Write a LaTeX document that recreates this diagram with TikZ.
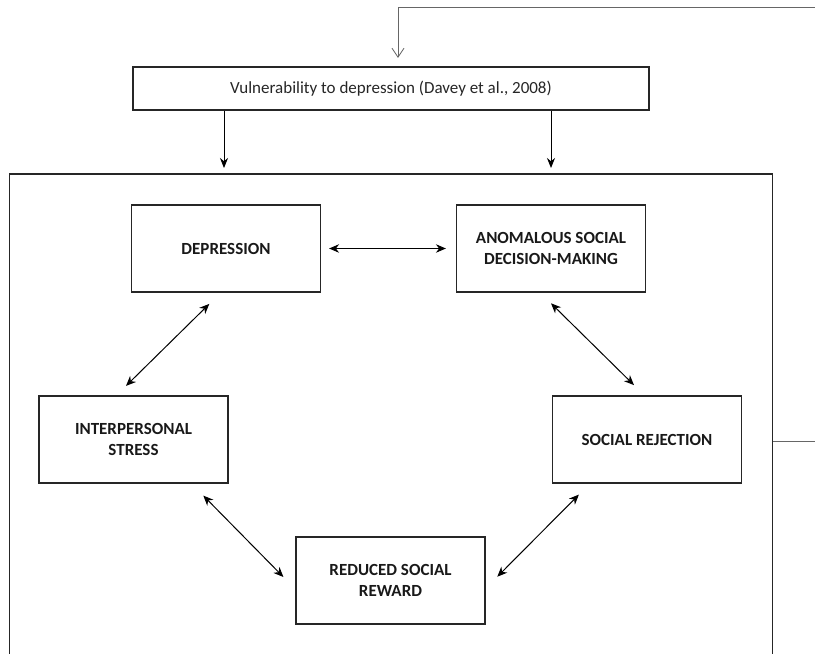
\documentclass[tikz,border=0pt]{standalone}
\usepackage{fontspec}
\setmainfont{Carlito}
\usetikzlibrary{arrows.meta,positioning}
\tikzstyle{box}      = [draw=black!85, line width=1.2pt, minimum width=189pt, minimum height=87pt, inner sep=0pt, align=center, text=black!90, font=\fontsize{17}{21.5}\selectfont\bfseries]
\tikzstyle{topbox}   = [draw=black!85, line width=1.2pt, minimum width=516pt, minimum height=43pt, inner sep=0pt, text=black!85, font=\fontsize{17}{21.5}\selectfont]
\tikzstyle{frame}    = [draw=black!85, line width=1.2pt]
\tikzstyle{feedback} = [draw=black!60, line width=0.8pt]
\tikzstyle{arrow}    = [line width=1pt, -{Stealth[length=10pt,width=8pt]}]
\tikzstyle{dblarrow} = [line width=1pt, {Stealth[length=10pt,width=8.5pt]}-{Stealth[length=10pt,width=8.5pt]}]

\begin{document}
\begin{tikzpicture}[x=1pt, y=-1pt]
		\useasboundingbox (0,0) rectangle (815,654);

		\node[topbox] (vuln) at (391,88.5) {Vulnerability to depression (Davey et al., 2008)};

		\node[box] (dep)   at (226,248.5) {DEPRESSION};
		\node[box] (anom)  at (551,248.5) {ANOMALOUS SOCIAL\\DECISION-MAKING};
		\node[box] (inter) at (133.5,439.5) {INTERPERSONAL\\STRESS};
		\node[box] (rej)   at (647,439.5) {SOCIAL REJECTION};
		\node[box] (red)   at (390.5,580.5) {REDUCED SOCIAL\\REWARD};

		% outer frame, open at the bottom
		\coordinate (fbl)  at (9.5,654);
		\coordinate (fbr)  at (772.5,654);
		\coordinate (ftop) at (9.5,174);
		\draw[frame] (fbl) |- (ftop -| fbr) -- (fbr);

		\draw[arrow, shorten >=6pt] (vuln.south -| 224,0) -- (224,0 |- ftop);
		\draw[arrow, shorten >=6pt] (vuln.south -| anom) -- (anom |- ftop);

		% feedback loop
		\coordinate (exit) at (815,441);
		\coordinate (back) at (815,7);
		\draw[feedback] (exit -| fbr) -- (exit);
		\draw[feedback, -{Straight Barb[length=9pt,width=12pt]}] (back) -| ([xshift=7pt,yshift=8.5pt]vuln.north);

		\draw[dblarrow, shorten <=8pt, shorten >=10pt] (dep.east) -- (anom.west);
		\draw[dblarrow] ([xshift=-16.7pt,yshift=-11.3pt]dep.south) -- ([xshift=-7.5pt,yshift=9.5pt]inter.north);
		\draw[dblarrow] ([yshift=-10.7pt]anom.south) -- ([xshift=-13pt,yshift=10.3pt]rej.north);
		\draw[dblarrow] ([xshift=-25.3pt,yshift=-12pt]inter.south east) -- ([xshift=-12pt,yshift=3.5pt]red.west);
		\draw[dblarrow] ([xshift=27pt,yshift=-11pt]rej.south west) -- ([xshift=11.7pt,yshift=3.8pt]red.east);
\end{tikzpicture}
\end{document}
